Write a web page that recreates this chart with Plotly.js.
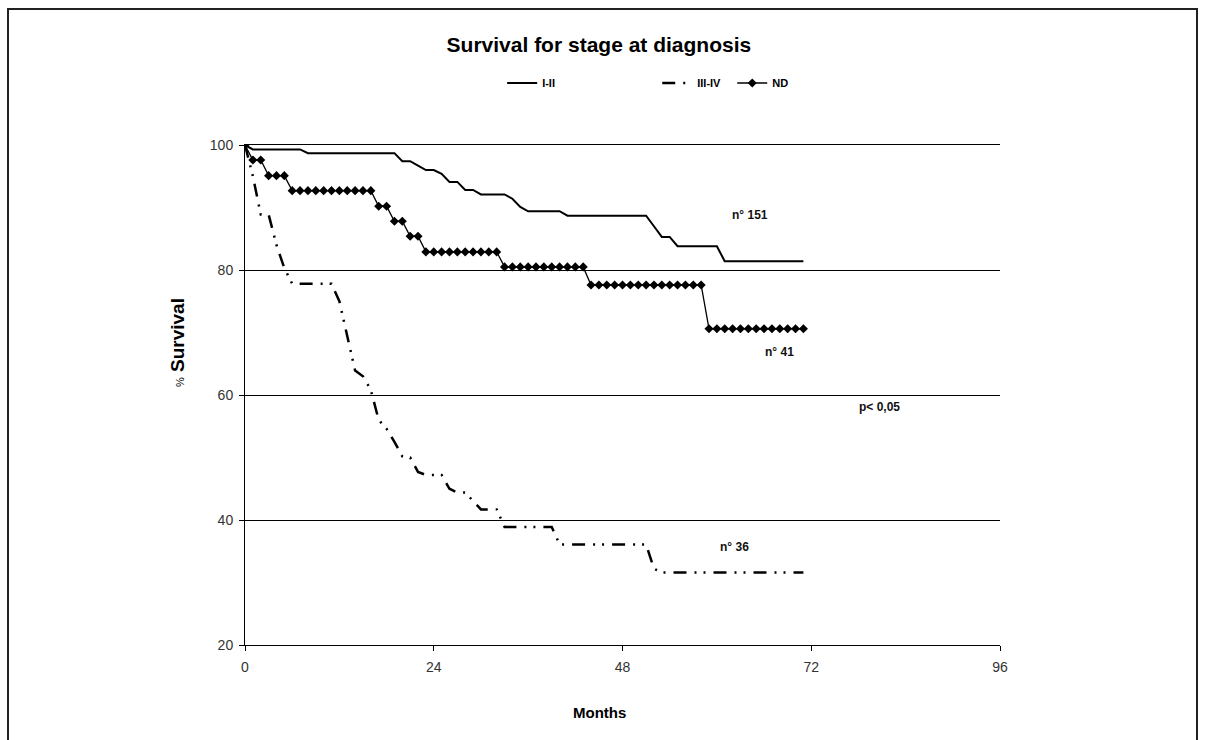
<!DOCTYPE html>
<html>
<head>
<meta charset="utf-8">
<script src="https://cdn.plot.ly/plotly-3.0.1.min.js"></script>
<style>
  html, body { margin: 0; padding: 0; background: #fff; }
  #wrap { position: relative; width: 1205px; height: 740px; overflow: hidden; }
  #chart { width: 1205px; height: 740px; }
  #frame { position: absolute; left: 7px; top: 8px; width: 1191px; height: 760px;
           border: 2px solid #222; pointer-events: none; box-sizing: border-box; }
</style>
</head>
<body>
<div id="wrap">
  <div id="chart"></div>
  <div id="frame"></div>
</div>
<script>
// Months (x categories)
const months = [0,1,2,3,4,5,6,7,8,9,10,11,12,13,14,15,16,17,18,19,20,21,22,23,24,25,26,27,28,29,30,31,32,33,34,35,
  36,37,38,39,40,41,42,43,44,45,46,47,48,49,50,51,52,53,54,55,56,57,58,59,60,61,62,63,64,65,66,67,68,69,70,71];

// % survival, stage I-II (n 151)
const stageI_II = [100,
  99.3,99.3,99.3,99.3,99.3,99.3,99.3,
  98.7,98.7,98.7,98.7,98.7,98.7,98.7,98.7,98.7,98.7,98.7,98.7,
  97.4,97.4,96.7,96.0,96.0,95.4,94.1,94.1,92.8,92.8,92.1,92.1,92.1,92.1,91.4,90.1,89.4,89.4,89.4,89.4,89.4,
  88.7,88.7,88.7,88.7,88.7,88.7,88.7,88.7,88.7,88.7,88.7,
  87.0,85.3,85.3,83.8,
  83.8,83.8,83.8,83.8,83.8,
  81.4,81.4,81.4,81.4,81.4,81.4,81.4,81.4,81.4,81.4,81.4];

// % survival, stage III-IV (n 36)
const stageIII_IV = [100,95.0,88.9,88.9,84.0,80.3,77.8,77.8,77.8,77.8,77.8,77.8,75.0,69.4,63.9,63.0,60.8,56.0,54.6,52.5,
  50.2,50.0,47.7,47.2,47.2,47.2,45.0,44.4,44.4,43.0,41.7,41.7,41.7,
  38.9,38.9,38.9,38.9,38.9,38.9,38.9,
  36.1,36.1,36.1,36.1,36.1,36.1,36.1,36.1,36.1,36.1,36.1,36.1,
  32.2,
  31.6,31.6,31.6,31.6,31.6,31.6,31.6,31.6,31.6,31.6,31.6,31.6,31.6,31.6,31.6,31.6,31.6,31.6,31.6];

// % survival, stage not determined (n 41)
const stageND = [100,97.6,97.6,95.1,95.1,95.1,
  92.7,92.7,92.7,92.7,92.7,92.7,92.7,92.7,92.7,92.7,92.7,
  90.2,90.2,87.8,87.8,85.4,85.4,
  82.9,82.9,82.9,82.9,82.9,82.9,82.9,82.9,82.9,82.9,
  80.5,80.5,80.5,80.5,80.5,80.5,80.5,80.5,80.5,80.5,80.5,
  77.6,77.6,77.6,77.6,77.6,77.6,77.6,77.6,77.6,77.6,77.6,77.6,77.6,77.6,77.6,
  70.6,70.6,70.6,70.6,70.6,70.6,70.6,70.6,70.6,70.6,70.6,70.6,70.6];

const seriesNames = ["I-II", "III-IV", "ND"];
const xTicks = [0, 24, 48, 72, 96];
const yTicks = [20, 40, 60, 80, 100];

// Annotation texts and anchor values
const noteTexts = ["n° 151", "n° 41", "p< 0,05", "n° 36"];
const noteX = [64.2, 68.0, 80.7, 62.3];
const noteY = [88.8, 66.9, 58.1, 35.7];

const FONT = "Liberation Sans, Arial, sans-serif";

const traces = [
  { x: months, y: stageI_II, name: seriesNames[0], type: "scatter", mode: "lines",
    line: { color: "#000", width: 2 }, legend: "legend" },
  { x: months, y: stageIII_IV, name: seriesNames[1], type: "scatter", mode: "lines",
    line: { color: "#000", width: 2.5, dash: "13px,8px,2px,7px,2px,8px" }, legend: "legend2" },
  { x: months, y: stageND, name: seriesNames[2], type: "scatter", mode: "lines+markers",
    line: { color: "#000", width: 1.3 }, marker: { symbol: "diamond", size: 7, color: "#000" },
    legend: "legend2" }
];

const annotations = noteTexts.map((t, i) => ({
  x: noteX[i], y: noteY[i], xref: "x", yref: "y", text: "<b>" + t + "</b>",
  showarrow: false, font: { family: FONT, size: 12, color: "#111" }
}));
// axis titles placed as in the reference
annotations.push({
  x: 0.470, y: -0.134, xref: "paper", yref: "paper", showarrow: false,
  xanchor: "center", yanchor: "middle",
  text: "<b>Months</b>", font: { family: FONT, size: 15, color: "#000" }
});
annotations.push({
  x: -0.090, y: 0.604, xref: "paper", yref: "paper", showarrow: false, textangle: -90,
  xanchor: "center", yanchor: "middle",
  text: "<span style='font-size:11px'>%</span> <b>Survival</b>",
  font: { family: FONT, size: 19, color: "#000" }
});

const legendFont = { family: FONT, size: 11, color: "#000", weight: "bold" };

const layout = {
  width: 1205, height: 740,
  margin: { l: 245, r: 205, t: 145, b: 95 },
  paper_bgcolor: "#fff", plot_bgcolor: "#fff",
  title: { text: "<b>Survival for stage at diagnosis</b>", x: 0.497, xanchor: "center",
           y: 0.939, yanchor: "middle",
           font: { family: FONT, size: 21, color: "#000" } },
  showlegend: true,
  legend: { orientation: "h", x: 0.3406, xanchor: "left", y: 1.124, yanchor: "middle",
            font: legendFont, bgcolor: "rgba(0,0,0,0)", itemwidth: 30 },
  legend2: { orientation: "h", x: 0.546, xanchor: "left", y: 1.124, yanchor: "middle",
             font: legendFont, bgcolor: "rgba(0,0,0,0)", itemwidth: 30, entrywidth: 30 },
  xaxis: {
    range: [0, 96], tickvals: xTicks, ticktext: xTicks.map(String),
    showgrid: false, zeroline: false, showline: true, linecolor: "#000", linewidth: 1,
    mirror: true,
    ticks: "outside", ticklen: 5, tickcolor: "#000", ticklabelstandoff: 4,
    tickfont: { family: FONT, size: 14, color: "#333" }
  },
  yaxis: {
    range: [20, 100], tickvals: yTicks, ticktext: yTicks.map(String),
    showgrid: true, gridcolor: "#000", gridwidth: 1, zeroline: false,
    showline: true, linecolor: "#000", linewidth: 1,
    ticks: "outside", ticklen: 5, tickcolor: "#000", ticklabelstandoff: 3,
    tickfont: { family: FONT, size: 14, color: "#333" }
  },
  annotations: annotations
};

Plotly.newPlot("chart", traces, layout, { displayModeBar: false, staticPlot: true });
</script>
</body>
</html>
